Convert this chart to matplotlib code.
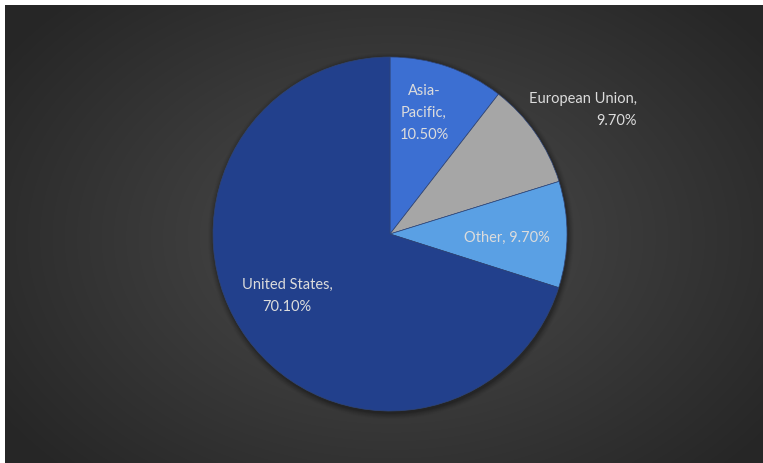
import numpy as np
import matplotlib
matplotlib.use("Agg")
import matplotlib.pyplot as plt
from matplotlib.patches import Circle, Rectangle

# Share of total by region
regions = ["Asia-Pacific", "European Union", "Other", "United States"]
shares = [10.5, 9.7, 9.7, 70.1]
label_texts = ["Asia-\nPacific,\n10.50%", "European Union,\n9.70%",
               "Other, 9.70%", "United States,\n70.10%"]
colors = ["#3c6fd2", "#a6a6a6", "#5aa0e4", "#22408c"]

W, H = 763, 464
fig = plt.figure(figsize=(W / 100, H / 100), dpi=100)
fig.patch.set_facecolor("#262626")

# Single axes in pixel coordinates (y measured from the bottom)
ax = fig.add_axes([0, 0, 1, 1])
ax.set_axis_off()

# Dark chart area with a soft radial glow
left, top = 5, 6
yy, xx = np.mgrid[0:H - top, 0:W - left]
cx, cy = 385, 232
d = np.sqrt(((xx - cx) / 470.0) ** 2 + ((yy - cy) / 330.0) ** 2)
shade = np.clip(0.30 - 0.15 * d, 0.15, 0.30)
ax.imshow(np.dstack([shade] * 3), aspect="auto", interpolation="nearest",
          extent=[left, W + 1, -1, H - top], zorder=0)

# white margin strips along the top and left edges
ax.add_patch(Rectangle((-1, H - top), W + 2, top + 1, facecolor="white",
                       edgecolor="none", zorder=0.5))
ax.add_patch(Rectangle((-1, -1), left + 1, H + 2, facecolor="white",
                       edgecolor="none", zorder=0.5))

center = (390, H - 235)
radius = 177

# soft shadow behind the pie
for k, a in zip(range(6, 0, -1), [0.03, 0.04, 0.05, 0.06, 0.08, 0.10]):
    ax.add_patch(Circle((center[0] + 1, center[1] - 2), radius + k,
                        color="black", alpha=a, lw=0, zorder=1))

wedges, _ = ax.pie(shares, colors=colors, startangle=90, counterclock=False,
                   center=center, radius=radius, frame=True,
                   wedgeprops=dict(linewidth=0.5, edgecolor="#2f4577"))
for w in wedges:
    w.set_zorder(2)

font = dict(family=["Lato", "DejaVu Sans"], fontsize=10.5, color="#dcdcdc")
label_pos = [(424, 113, "center"), (583, 110, "right"),
             (507, 238, "center"), (287, 296, "center")]
for txt, (px, py, malign) in zip(label_texts, label_pos):
    ax.text(px, H - py, txt, ha="center", va="center", zorder=3,
            multialignment=malign, linespacing=1.75, **font)

ax.set_xlim(0, W)
ax.set_ylim(0, H)
ax.set_aspect("auto")
ax.set_axis_off()

fig.savefig("out.png", dpi=100, facecolor=fig.get_facecolor())
